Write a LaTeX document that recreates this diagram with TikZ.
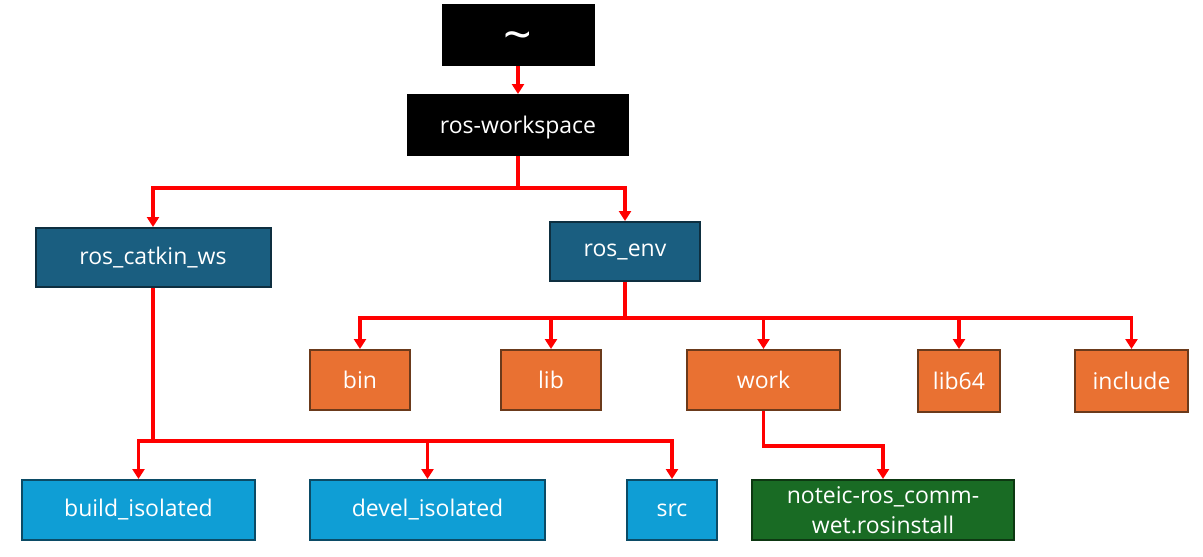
\documentclass[tikz,border=0pt]{standalone}
\usepackage{fontspec}
\setmainfont{Open Sans}
\usetikzlibrary{positioning,arrows.meta}

\definecolor{tealdir}{HTML}{1A5E80}
\definecolor{tealline}{HTML}{0E2F40}
\definecolor{orangedir}{HTML}{E97132}
\definecolor{orangeline}{HTML}{6B3A1B}
\definecolor{bluedir}{HTML}{0F9ED5}
\definecolor{blueline}{HTML}{0B4B66}
\definecolor{greenfile}{HTML}{196B24}
\definecolor{greenline}{HTML}{0D3812}

\begin{document}
\begin{tikzpicture}[x=1pt,y=-1pt,
  box/.style={
   draw,
   line width=2pt,
   text=white,
   inner sep=0pt,
   minimum height=59pt,
   font=\fontsize{23}{30}\selectfont
  },
  rootbox/.style={box,fill=black,draw=black},
  topdir/.style={box,fill=tealdir,draw=tealline},
  envdir/.style={box,fill=orangedir,draw=orangeline},
  wsdir/.style={box,fill=bluedir,draw=blueline},
  filebox/.style={box,fill=greenfile,draw=greenline,align=center},
  link/.style={
   draw=red,
   line width=3.5pt,
   -{Triangle[width=12pt,length=10pt]}
  }]
  \useasboundingbox (0,0) rectangle (1203,557);

  % top of the tree
  \node[rootbox,minimum width=151pt,minimum height=60pt] (home) at (518,35) {\fontsize{50}{30}\selectfont\smash{\raisebox{-17pt}{\textasciitilde}}};
  \node[rootbox,minimum width=220pt,minimum height=60pt] (ws) at (518,125) {\smash{\raisebox{-8pt}{ros-workspace}}};

  % second level
  \node[topdir,minimum width=235pt] (catkin) at (153,257.5) {ros\_catkin\_ws};
  \node[topdir,minimum width=150pt] (env) at (625,251.5) {ros\_env};

  % contents of ros_env
  \node[envdir,minimum width=100pt,minimum height=60pt] (bin) at (360,380) {bin};
  \node[envdir,minimum width=100pt,minimum height=60pt] (lib) at (551,380) {lib};
  \node[envdir,minimum width=153pt,minimum height=60pt] (work) at (763.5,380) {work};
  \node[envdir,minimum width=82pt,minimum height=62pt] (lib64) at (959,381) {lib64};
  \node[envdir,minimum width=113pt,minimum height=62pt] (incl) at (1131.5,381) {include};

  % contents of ros_catkin_ws
  \node[wsdir,minimum width=233pt,minimum height=60pt] (build) at (138.5,510) {build\_isolated};
  \node[wsdir,minimum width=235pt,minimum height=60pt] (devel) at (427.5,510) {devel\_isolated};
  \node[wsdir,minimum width=90pt,minimum height=60pt] (src) at (672,510) {src};
  \node[filebox,minimum width=262pt,minimum height=60pt] (rosinst) at (883,510) {noteic-ros\_comm-\\wet.rosinstall};

  % connectors
  \draw[link] (home) -- (ws);
  \draw[link] (ws.south) -- ++(0,32) coordinate (wsbus) -| (catkin.north);
  \draw[link] (wsbus) -| (env.north);

  \draw[draw=red,line width=3.5pt] (env.south) -- ++(0,36) coordinate (envbus);
  \foreach \n in {bin,lib,work,lib64,incl}
    \draw[link] (envbus) -| (\n.north);

  \draw[draw=red,line width=3.5pt] (catkin.south) -- ++(0,153) coordinate (catbus);
  \foreach \n in {build,devel,src}
    \draw[link] (catbus) -| (\n.north);

  \draw[link] (work.south) -- ++(0,35) -| (rosinst.north);
\end{tikzpicture}
\end{document}
